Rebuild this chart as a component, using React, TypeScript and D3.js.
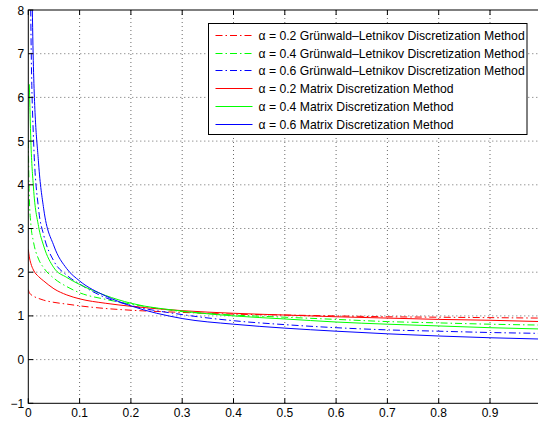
import * as d3 from 'd3'

// shared x positions (curves are dense near 0)
const xs = [0, 0.002, 0.005, 0.01, 0.02, 0.03, 0.05, 0.075, 0.1, 0.15, 0.2, 0.3, 0.4, 0.5, 0.6, 0.7, 0.8, 0.9, 1.0]

// Grünwald–Letnikov (dash-dot)
const gl02 = [1.6, 1.53, 1.49, 1.45, 1.4, 1.36, 1.31, 1.27, 1.23, 1.17, 1.13, 1.08, 1.04, 1.02, 1.0, 0.98, 0.97, 0.96, 0.95]
const gl04 = [5.0, 3.7, 3.1, 2.7, 2.3, 2.1, 1.86, 1.67, 1.53, 1.38, 1.27, 1.1, 1.02, 0.97, 0.92, 0.87, 0.84, 0.81, 0.79]
const gl06 = [NaN, 12, 7.7, 5.1, 3.45, 2.85, 2.25, 1.93, 1.73, 1.42, 1.24, 1.03, 0.89, 0.8, 0.73, 0.68, 0.65, 0.62, 0.6]

// Matrix discretization (solid)
const md02 = [2.52, 2.35, 2.2, 2.05, 1.9, 1.8, 1.62, 1.48, 1.39, 1.29, 1.22, 1.12, 1.06, 1.02, 0.98, 0.95, 0.92, 0.9, 0.87]
const md04 = [NaN, 6.3, 5.0, 3.95, 3.05, 2.6, 2.1, 1.88, 1.72, 1.47, 1.29, 1.11, 1.0, 0.93, 0.86, 0.81, 0.77, 0.73, 0.7]
const md06 = [NaN, NaN, 10.5, 6.7, 4.5, 3.45, 2.6, 2.08, 1.8, 1.46, 1.23, 0.94, 0.81, 0.72, 0.65, 0.59, 0.54, 0.5, 0.47]

const xTicks = [0, 0.1, 0.2, 0.3, 0.4, 0.5, 0.6, 0.7, 0.8, 0.9]
const yTicks = [-1, 0, 1, 2, 3, 4, 5, 6, 7, 8]

const series = [
  { label: 'α = 0.2 Grünwald\u2013Letnikov Discretization Method', values: gl02, color: '#ff0000', dash: '7,3,1.5,3' },
  { label: 'α = 0.4 Grünwald\u2013Letnikov Discretization Method', values: gl04, color: '#00ff00', dash: '7,3,1.5,3' },
  { label: 'α = 0.6 Grünwald\u2013Letnikov Discretization Method', values: gl06, color: '#0000ff', dash: '7,3,1.5,3' },
  { label: 'α = 0.2 Matrix Discretization Method', values: md02, color: '#ff0000', dash: '' },
  { label: 'α = 0.4 Matrix Discretization Method', values: md04, color: '#00ff00', dash: '' },
  { label: 'α = 0.6 Matrix Discretization Method', values: md06, color: '#0000ff', dash: '' },
]

const W = 538
const H = 421
const left = 28.3
const right = 541.3 // right edge falls just outside the picture
const top = 10
const bottom = 403.3

export default function App() {
  const x = d3.scaleLinear().domain([0, 1]).range([left, right])
  const y = d3.scaleLinear().domain([-1, 8]).range([bottom, top])

  const line = d3
    .line<number>()
    .defined((d) => !isNaN(d))
    .x((_, i) => x(xs[i]))
    .y((d) => y(d))
    .curve(d3.curveMonotoneX)

  const font = '"Liberation Sans", Arial, Helvetica, sans-serif'
  const tickLen = 5
  const legX = 208.5
  const legY = 23.5
  const legW = 318.5
  const legH = 111
  const rowH = 17.7

  return (
    <svg
      width={W}
      height={H}
      style={{ position: 'absolute', left: 0, top: 0, background: '#fff' }}
      fontFamily={font}
    >
      <defs>
        <clipPath id="plot-clip">
          <rect x={left} y={top} width={right - left} height={bottom - top} />
        </clipPath>
      </defs>

      {/* grid */}
      <g stroke="#444" strokeWidth={0.8} strokeDasharray="1,3">
        {xTicks.slice(1).map((t) => (
          <line key={'gx' + t} x1={x(t)} x2={x(t)} y1={top} y2={bottom} />
        ))}
        {yTicks.slice(1, -1).map((t) => (
          <line key={'gy' + t} x1={left} x2={right} y1={y(t)} y2={y(t)} />
        ))}
      </g>

      {/* curves */}
      <g clipPath="url(#plot-clip)" fill="none">
        {series.map((s, i) => (
          <path
            key={i}
            d={line(s.values) || ''}
            stroke={s.color}
            strokeWidth={1}
            strokeDasharray={s.dash || undefined}
          />
        ))}
      </g>

      {/* axes box and ticks */}
      <g stroke="#000" strokeWidth={1}>
        <rect x={left} y={top} width={right - left} height={bottom - top} fill="none" />
        {xTicks.map((t) => (
          <g key={'tx' + t}>
            <line x1={x(t)} x2={x(t)} y1={bottom} y2={bottom - tickLen} />
            <line x1={x(t)} x2={x(t)} y1={top} y2={top + tickLen} />
          </g>
        ))}
        {yTicks.map((t) => (
          <line key={'ty' + t} x1={left} x2={left + tickLen} y1={y(t)} y2={y(t)} />
        ))}
      </g>

      {/* tick labels */}
      <g fontSize={12} fill="#000">
        {xTicks.map((t) => (
          <text key={'lx' + t} x={x(t)} y={bottom + 14} textAnchor="middle">
            {t === 0 ? '0' : d3.format('.1f')(t)}
          </text>
        ))}
        {yTicks.map((t) => (
          <text key={'ly' + t} x={left - 4} y={y(t) + 4.5} textAnchor="end">
            {t < 0 ? '\u2212' + Math.abs(t) : String(t)}
          </text>
        ))}
      </g>

      {/* legend */}
      <g>
        <rect x={legX} y={legY} width={legW} height={legH} fill="#fff" stroke="#000" strokeWidth={1} />
        {series.map((s, i) => {
          const cy = Math.round(legY + 11.5 + i * rowH) + 0.5
          return (
            <g key={'lg' + i}>
              <line
                x1={legX + 7}
                x2={legX + 44}
                y1={cy}
                y2={cy}
                stroke={s.color}
                strokeWidth={1}
                strokeDasharray={s.dash || undefined}
              />
              <text x={legX + 50} y={cy + 4.5} fontSize={12.2} fill="#000">
                {s.label}
              </text>
            </g>
          )
        })}
      </g>
    </svg>
  )
}
